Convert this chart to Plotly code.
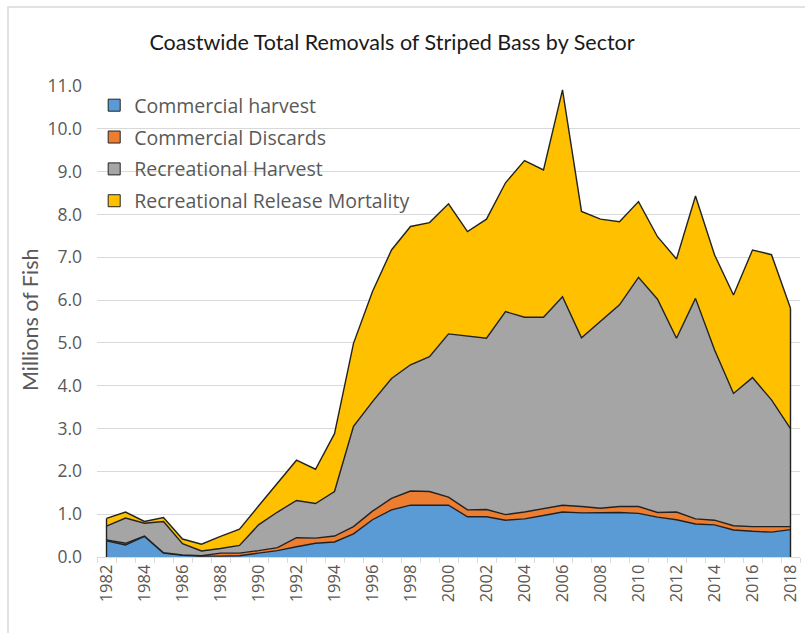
import plotly.graph_objects as go

years = list(range(1982, 2019))

commercial_harvest = [0.38, 0.28, 0.48, 0.09, 0.04, 0.02, 0.02, 0.03, 0.09, 0.15,
                      0.24, 0.32, 0.35, 0.54, 0.87, 1.10, 1.21, 1.21, 1.21, 0.94,
                      0.94, 0.86, 0.89, 0.97, 1.05, 1.03, 1.03, 1.04, 1.02, 0.93,
                      0.87, 0.77, 0.75, 0.63, 0.60, 0.58, 0.64]
commercial_discards = [0.02, 0.04, 0.01, 0.01, 0.01, 0.01, 0.07, 0.06, 0.06, 0.07,
                       0.21, 0.12, 0.14, 0.17, 0.20, 0.27, 0.33, 0.32, 0.19, 0.16,
                       0.17, 0.13, 0.16, 0.16, 0.16, 0.15, 0.11, 0.14, 0.16, 0.11,
                       0.18, 0.12, 0.11, 0.10, 0.11, 0.13, 0.07]
recreational_harvest = [0.32, 0.59, 0.30, 0.73, 0.26, 0.11, 0.11, 0.18, 0.60, 0.83,
                        0.87, 0.81, 1.04, 2.34, 2.56, 2.80, 2.95, 3.15, 3.81, 4.06,
                        4.00, 4.74, 4.55, 4.47, 4.87, 3.94, 4.36, 4.71, 5.35, 4.98,
                        4.06, 5.15, 3.98, 3.09, 3.48, 2.96, 2.29]
release_mortality = [0.18, 0.14, 0.04, 0.09, 0.11, 0.16, 0.28, 0.38, 0.44, 0.67,
                     0.94, 0.80, 1.35, 1.94, 2.57, 3.00, 3.23, 3.13, 3.04, 2.44,
                     2.78, 3.01, 3.66, 3.44, 4.83, 2.95, 2.39, 1.94, 1.77, 1.46,
                     1.85, 2.39, 2.22, 2.30, 2.98, 3.39, 2.81]

series_names = ["Commercial harvest", "Commercial Discards",
                "Recreational Harvest", "Recreational Release Mortality"]
series_values = [commercial_harvest, commercial_discards,
                 recreational_harvest, release_mortality]
colors = ["#5B9BD5", "#ED7D31", "#A5A5A5", "#FFC000"]

x_tick_years = list(range(1982, 2019, 2))
y_ticks = [float(v) for v in range(0, 12)]

OUTLINE = "#222222"
TEXT = "#595959"

W, H = 805, 633
L, R, T, B = 97, 5, 86, 76
pw, ph = W - L - R, H - T - B

fig = go.Figure()

for name, vals, col in zip(series_names, series_values, colors):
    fig.add_trace(go.Scatter(
        x=years, y=vals, name=name, stackgroup="one", mode="lines",
        line=dict(color=OUTLINE, width=1.4), fillcolor=col,
        showlegend=False, hoverinfo="x+y+name"))

# vertical edges at the ends of the stacked area
totals = [sum(v[i] for v in series_values) for i in range(len(years))]
for idx in (0, -1):
    fig.add_trace(go.Scatter(
        x=[years[idx], years[idx]], y=[0, totals[idx]], mode="lines",
        line=dict(color=OUTLINE, width=1.4), showlegend=False, hoverinfo="skip"))

# legend entries with square swatches
for i, (name, col) in enumerate(zip(series_names, colors)):
    fig.add_trace(go.Scatter(
        x=[None], y=[None], mode="markers", name=name, legendgroup=f"g{i}",
        marker=dict(symbol="square", size=12, color=col,
                    line=dict(color=OUTLINE, width=1))))

# invisible trace to carry the tick-mark axis
fig.add_trace(go.Scatter(x=[years[0]], y=[0], xaxis="x2", mode="markers",
                         marker=dict(opacity=0), showlegend=False, hoverinfo="skip"))

half_ticks = [y - 0.5 for y in years] + [years[-1] + 0.5]

fig.update_layout(
    width=W, height=H,
    margin=dict(l=L, r=R, t=T, b=B),
    paper_bgcolor="white", plot_bgcolor="white",
    title=dict(text="Coastwide Total Removals of Striped Bass by Sector",
               x=392 / W, xanchor="center", y=1 - 42 / H, yanchor="middle",
               font=dict(family="Lato", size=21.5, color="#1a1a1a")),
    xaxis=dict(range=[years[0] - 0.5, years[-1] + 0.5],
               tickvals=x_tick_years, ticktext=[str(v) for v in x_tick_years],
               tickangle=-90, ticks="", showgrid=False, zeroline=False,
               showline=True, linecolor="#D9D9D9", linewidth=1,
               tickfont=dict(family="Open Sans", size=16.5, color=TEXT)),
    xaxis2=dict(range=[years[0] - 0.5, years[-1] + 0.5], overlaying="x",
                anchor="y", side="bottom", tickvals=half_ticks,
                showticklabels=False, ticks="outside", ticklen=5,
                tickcolor="#D9D9D9", showgrid=False, zeroline=False,
                showline=False),
    yaxis=dict(range=[0, 11], tickvals=y_ticks, tickformat=".1f",
               showgrid=True, gridcolor="#D9D9D9", gridwidth=1,
               zeroline=False, showline=False, ticks="",
               ticklabelstandoff=14,
               tickfont=dict(family="Open Sans", size=17.5, color=TEXT)),
    legend=dict(x=-0.004, y=(H - B - 86) / ph, xanchor="left", yanchor="top",
                bgcolor="rgba(255,255,255,0)", traceorder="grouped",
                tracegroupgap=3.5,
                font=dict(family="Open Sans", size=19.5, color=TEXT)),
    showlegend=True,
)

fig.add_annotation(text="Millions of Fish", xref="paper", yref="paper",
                   x=(30 - L) / pw, y=(H - B - 320) / ph, textangle=-90,
                   showarrow=False, xanchor="center", yanchor="middle",
                   font=dict(family="Lato", size=21.5, color=TEXT))

# chart-area border (left and top visible)
fig.add_shape(type="rect", xref="paper", yref="paper",
              x0=(8 - L) / pw, x1=(W + 10 - L) / pw,
              y0=(H - B - (H + 10)) / ph, y1=(H - B - 7) / ph,
              line=dict(color="#D9D9D9", width=1.5), layer="below")

fig.write_html("out.html", config={"displayModeBar": False},
               post_script="document.body.style.margin='0px';")
